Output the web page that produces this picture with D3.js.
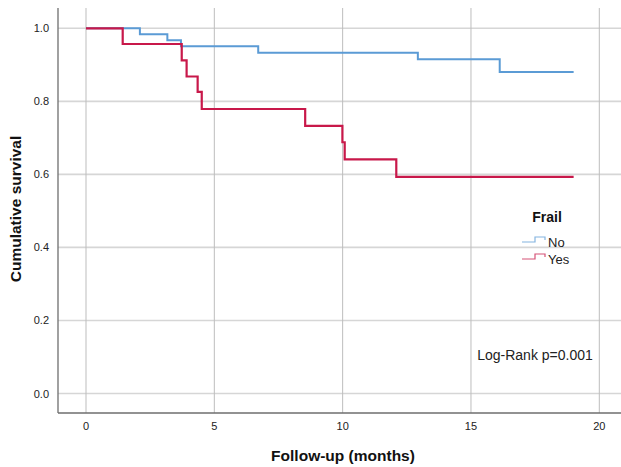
<!DOCTYPE html>
<html><head><meta charset="utf-8">
<script src="https://cdn.jsdelivr.net/npm/d3@7/dist/d3.min.js"></script>
<style>body{margin:0;background:#fff;} svg{display:block;font-family:Arial,"Liberation Sans",sans-serif;}</style>
</head><body><svg id="c" width="621" height="467"></svg>
<script>
const xTicks = [0, 5, 10, 15, 20];
const yTicks = [0.0, 0.2, 0.4, 0.6, 0.8, 1.0];
const groups = ["No", "Yes"];
const colors = ["#5b9bd5", "#c8184a"];
// step points: [time, survival]
const noTimes = [0, 2.1, 3.17, 3.7, 6.71, 12.93, 16.12, 19];
const noSurv  = [1.0, 0.984, 0.967, 0.951, 0.933, 0.915, 0.880, 0.880];
const yesTimes = [0, 1.43, 3.73, 3.92, 4.35, 4.51, 8.54, 9.99, 10.08, 12.09, 19];
const yesSurv  = [1.0, 0.957, 0.912, 0.868, 0.826, 0.779, 0.733, 0.688, 0.641, 0.593, 0.593];

const svg = d3.select("#c");
const pLeft = 58, pBottom = 413, pTop = 8, pRight = 621;
const x = d3.scaleLinear().domain([0, 20]).range([86, 599.3]);
const y = d3.scaleLinear().domain([0, 1]).range([393.5, 28.3]);

// horizontal gridlines
svg.append("g").selectAll("line").data(yTicks).join("line")
  .attr("x1", pLeft).attr("x2", pRight).attr("y1", d => y(d)).attr("y2", d => y(d))
  .attr("stroke", "#d6d6d6").attr("stroke-width", 1.6);
// vertical gridlines
svg.append("g").selectAll("line").data(xTicks).join("line")
  .attr("x1", d => x(d)).attr("x2", d => x(d)).attr("y1", pTop).attr("y2", pBottom)
  .attr("stroke", "#bdbdbd").attr("stroke-width", 1);

// axes lines
svg.append("line").attr("x1", pLeft).attr("x2", pLeft).attr("y1", pTop).attr("y2", pBottom)
  .attr("stroke", "#6e6e6e").attr("stroke-width", 1.3);
svg.append("line").attr("x1", pLeft).attr("x2", pRight).attr("y1", pBottom).attr("y2", pBottom)
  .attr("stroke", "#6e6e6e").attr("stroke-width", 1.3);

// tick labels
svg.append("g").selectAll("text").data(yTicks).join("text")
  .attr("x", 49).attr("y", d => y(d) + 4).attr("text-anchor", "end")
  .attr("font-size", 11).attr("fill", "#222").text(d => d3.format(".1f")(d));
svg.append("g").selectAll("text").data(xTicks).join("text")
  .attr("x", d => x(d)).attr("y", 430).attr("text-anchor", "middle")
  .attr("font-size", 11).attr("fill", "#222").text(d => d);

// axis titles
svg.append("text").attr("x", 343).attr("y", 461).attr("text-anchor", "middle")
  .attr("font-size", 15.5).attr("font-weight", "bold").attr("fill", "#111").text("Follow-up (months)");
svg.append("text").attr("transform", "translate(21,209) rotate(-90)").attr("text-anchor", "middle")
  .attr("font-size", 15.5).attr("font-weight", "bold").attr("fill", "#111").text("Cumulative survival");

// curves
const line = d3.line().x(d => x(d[0])).y(d => y(d[1])).curve(d3.curveStepAfter);
const series = [d3.zip(noTimes, noSurv), d3.zip(yesTimes, yesSurv)];
series.forEach((s, i) => {
  svg.append("path").datum(s).attr("d", line).attr("fill", "none")
    .attr("stroke", colors[i]).attr("stroke-width", i === 1 ? 2.2 : 2);
});

// legend
svg.append("text").attr("x", 547).attr("y", 222).attr("text-anchor", "middle")
  .attr("font-size", 14).attr("font-weight", "bold").attr("fill", "#111").text("Frail");
groups.forEach((g, i) => {
  const yy = 242 + i * 17;
  const sym = `M522,${yy} L535,${yy} L535,${yy - 5} L545,${yy - 5} L545,${yy - 2}`;
  svg.append("path").attr("d", sym).attr("fill", "none").attr("stroke", colors[i])
    .attr("stroke-width", 1.2).attr("opacity", 0.75);
  svg.append("text").attr("x", 548).attr("y", yy + 4.5).attr("font-size", 13).attr("fill", "#222").text(g);
});

svg.append("text").attr("x", 535).attr("y", 360).attr("text-anchor", "middle")
  .attr("font-size", 14).attr("fill", "#222").text("Log-Rank p=0.001");
</script></body></html>
